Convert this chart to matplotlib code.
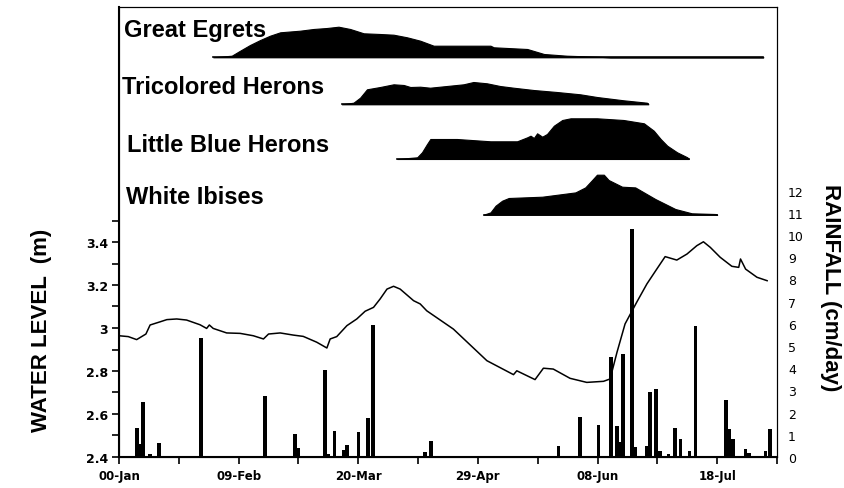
import matplotlib
matplotlib.use("Agg")
from matplotlib import pyplot as plt
from matplotlib.ticker import FixedLocator

# water level (m), day of year
wl_day = [0, 3.1, 5.9, 9, 10.4, 13.8, 16, 19.3, 22.6, 27.1, 29.3, 30.2, 31.5, 36, 40.5, 44.9,
          48.3, 50, 53.9, 58.3, 61.6, 66.1, 69.5, 70.6, 72.8, 76.2, 79.5, 82.3, 85.1, 87.3,
          89.6, 91.8, 94, 98.5, 100.7, 102.9, 111.8, 123, 131.9, 133, 139.1, 141.9, 145.2,
          150.8, 156.4, 162, 164.2, 166.5, 169.2, 173.1, 176.5, 179.8, 182.6, 186.5, 189.9,
          193.2, 195.4, 197.7, 201, 204.9, 207.2, 207.8, 209.5, 213.3, 216.7]
wl_val = [2.964, 2.96, 2.946, 2.972, 3.014, 3.029, 3.039, 3.042, 3.037, 3.015, 2.998, 3.014,
          2.998, 2.977, 2.975, 2.964, 2.949, 2.972, 2.977, 2.967, 2.961, 2.934, 2.907, 2.949,
          2.96, 3.011, 3.042, 3.078, 3.096, 3.135, 3.181, 3.194, 3.181, 3.127, 3.112, 3.08,
          2.995, 2.848, 2.783, 2.801, 2.76, 2.813, 2.809, 2.766, 2.747, 2.752, 2.763, 2.887,
          3.019, 3.12, 3.205, 3.274, 3.332, 3.316, 3.344, 3.383, 3.401, 3.375, 3.329, 3.287,
          3.282, 3.321, 3.274, 3.236, 3.22]

# rainfall (cm/day)
rain_day = [6.1, 7, 8.1, 10.4, 13.4, 27.4, 48.8, 58.9, 60, 68.9, 70, 72, 75, 76.2, 80.1, 83.2,
            84.9, 102.4, 104.4, 146.9, 154.2, 160.3, 164.4, 166.5, 167.4, 168.5, 171.6, 172.6,
            176.5, 177.6, 179.6, 180.9, 183.7, 185.9, 187.8, 190.7, 192.8, 203, 204.1, 205.2,
            209.5, 210.6, 216.2, 217.6]
rain_val = [1.31, 0.59, 2.46, 0.14, 0.63, 5.35, 2.73, 1.04, 0.39, 3.92, 0.14, 1.19, 0.33, 0.54,
            1.11, 1.74, 5.96, 0.24, 0.74, 0.48, 1.79, 1.44, 4.52, 1.41, 0.66, 4.64, 10.27, 0.44,
            0.51, 2.94, 3.06, 0.28, 0.14, 1.31, 0.81, 0.26, 5.89, 2.57, 1.26, 0.81, 0.36, 0.17,
            0.28, 1.26]

# nesting profiles (relative numbers of nests)
ge_day = [31.5, 37.7, 40.5, 43.8, 47.2, 50.5, 53.9, 60.5, 65, 69.5, 73.4, 77.3, 81.8, 87.3, 91.8,
          96.3, 100.7, 105.2, 124.2, 125.3, 136.5, 142.1, 149.7, 159.8, 164.3, 215.4]
ge_val = [0, 1.6, 6.6, 12.3, 17.3, 21.6, 25, 26.6, 28.3, 29.3, 30.6, 28.3, 24, 23.3, 22.6, 20,
          16.6, 11.6, 11.6, 10, 8.3, 3.3, 1.6, 0.6, 0, 0]
th_day = [74.5, 78.4, 80.6, 82.9, 87.3, 91.8, 95.2, 97.4, 100.7, 104, 109.6, 115.2, 118.5, 123,
          127.4, 131.9, 138.6, 146.4, 154.2, 159.8, 168.7, 176.5, 177]
th_val = [0, 1.6, 6.6, 15, 17.3, 20, 19.3, 17.3, 17.6, 16.6, 18.3, 20, 22.3, 21, 18.3, 16.6, 14.3,
          12.3, 10, 7.3, 4, 1.6, 0]
lbh_day = [93, 99.7, 101.3, 103, 104.1, 113, 124.2, 133.1, 136.5, 137.6, 138.7, 139.8, 141.5,
           143.1, 145.4, 148.2, 151, 159.8, 168.7, 175.5, 178.8, 181.1, 183.3, 186.6, 190, 190.5]
lbh_val = [0, 1.7, 6.7, 15, 20, 20, 17.7, 17.7, 21.7, 23.3, 21, 25.7, 22.3, 25, 33.3, 39, 40.7,
           40.7, 39, 35.7, 28.3, 20, 13.3, 6.7, 1.7, 0]
wi_day = [121.9, 124.2, 125.9, 128.1, 130.3, 141.5, 152.6, 155.9, 158.2, 159.8, 162.1, 163.7,
          168.2, 172.6, 179.3, 186, 191.5, 199.3, 200]
wi_val = [0, 2.3, 9, 14, 16.7, 18, 22.3, 27.3, 34.7, 40, 40, 34.7, 28, 27.3, 15.7, 5.7, 1.4, 0.7, 0]

species = ["Great Egrets", "Tricolored Herons", "Little Blue Herons", "White Ibises"]
profiles = [(ge_day, ge_val), (th_day, th_val), (lbh_day, lbh_val), (wi_day, wi_val)]

tick_days = [0, 40, 80, 120, 160, 200]
tick_labels = ["00-Jan", "09-Feb", "20-Mar", "29-Apr", "08-Jun", "18-Jul"]

W, H = 844, 489
fig = plt.figure(figsize=(W / 100, H / 100), dpi=100)
pos = [119 / W, 31 / H, 658 / W, 450 / H]
ax = fig.add_axes(pos)
ax.set_xlim(0, 220)
ax.set_ylim(2.4, 2.4 + 450 / 215)
ax.plot(wl_day, wl_val, color="black", lw=1.1, zorder=3)

ax.xaxis.set_major_locator(FixedLocator(tick_days))
ax.set_xticklabels(tick_labels)
ax.xaxis.set_minor_locator(FixedLocator([20, 60, 100, 140, 180, 220]))
ax.yaxis.set_major_locator(FixedLocator([2.4, 2.6, 2.8, 3.0, 3.2, 3.4]))
ax.set_yticklabels(["2.4", "2.6", "2.8", "3", "3.2", "3.4"])
ax.yaxis.set_minor_locator(FixedLocator([2.5, 2.7, 2.9, 3.1, 3.3, 3.5]))
ax.tick_params(axis="both", which="both", direction="out", length=5, width=1.2)
ax.tick_params(axis="x", which="major", labelsize=8.5, pad=4)
ax.tick_params(axis="y", which="major", labelsize=9, pad=3)
for lab in ax.get_xticklabels() + ax.get_yticklabels():
    lab.set_fontweight("bold")
for s in ["left", "bottom"]:
    ax.spines[s].set_linewidth(1.5)
ax.spines["top"].set_linewidth(0.8)
ax.spines["right"].set_linewidth(0.8)

ax2 = ax.twinx()
ax2.set_ylim(0, 450 / 22.2)
ax2.bar(rain_day, rain_val, width=1.2, color="black", zorder=2)
ax2.set_yticks(range(0, 13))
ax2.tick_params(axis="y", length=0, labelsize=9, pad=8)
ax2.spines["right"].set_linewidth(0.8)

# nesting silhouettes on an overlay axes (vertical units = pixels above x axis)
ax3 = fig.add_axes(pos, frameon=False)
ax3.set_xlim(0, 220)
ax3.set_ylim(0, 450)
ax3.axis("off")
baselines = [399.7, 352.7, 298, 242.3]
label_y = [428, 370, 312, 261]
label_x = [124, 122, 127, 126]
for name, (d, v), b, ly, lx in zip(species, profiles, baselines, label_y, label_x):
    top = [b + val for val in v]
    ax3.fill_between(d, b, top, color="black", lw=0.8, edgecolor="black")
    ax3.plot([d[0], d[-1]], [b, b], color="black", lw=1.2)
    fig.text(lx / W, (31 + ly) / H, name, fontsize=17, fontweight="bold",
             family="Liberation Sans", ha="left", va="center")

fig.text(42 / W, 1 - 330 / H, "WATER LEVEL  (m)", rotation=90, ha="center", va="center",
         fontsize=16, fontweight="bold", family="Liberation Sans")
fig.text(830 / W, 1 - 288 / H, "RAINFALL (cm/day)", rotation=270, ha="center", va="center",
         fontsize=16, fontweight="bold", family="Liberation Sans")

fig.savefig("out.png", dpi=100)
